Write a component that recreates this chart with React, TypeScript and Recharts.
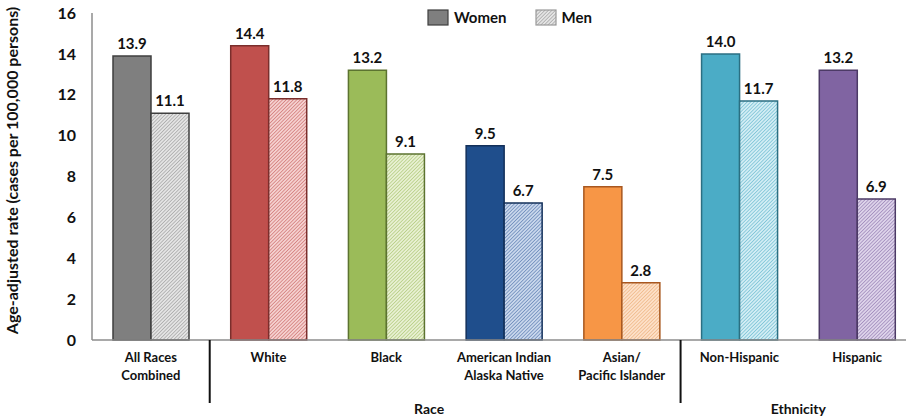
import { Bar, BarChart, Cell, LabelList, XAxis, YAxis } from "recharts";

const categories = [
  ["All Races", "Combined"],
  ["White"],
  ["Black"],
  ["American Indian", "Alaska Native"],
  ["Asian/", "Pacific Islander"],
  ["Non-Hispanic"],
  ["Hispanic"],
];
const groups = ["", "Race", "Race", "Race", "Race", "Ethnicity", "Ethnicity"];
const women = [13.9, 14.4, 13.2, 9.5, 7.5, 14.0, 13.2];
const men = [11.1, 11.8, 9.1, 6.7, 2.8, 11.7, 6.9];
const yTicks = [0, 2, 4, 6, 8, 10, 12, 14, 16];

const solidColors = ["#7f7f7f", "#c0504d", "#9bbb59", "#1f4e8c", "#f79646", "#4bacc6", "#8064a2"];
const edgeColors = ["#3f3f3f", "#7a2e2c", "#5c7330", "#13305a", "#a8571f", "#2b6f82", "#4c3a66"];
const lightColors = ["#e4e4e4", "#f5d0cf", "#e8f0d2", "#c9d7ec", "#fde0c8", "#d2edf4", "#ddd3ea"];
const hatchColors = ["#8a8a8a", "#c0504d", "#9bbb59", "#3a62a0", "#e8a468", "#4bacc6", "#8064a2"];

const font = "Lato, 'Liberation Sans', sans-serif";
const groupShift: Record<string, number> = { Race: -16, Ethnicity: 0 };

const data = categories.map((lines, i) => ({
  name: lines.join(" "),
  lines,
  group: groups[i],
  women: women[i],
  men: men[i],
}));

function CategoryTick(props: any) {
  const { x, y, payload, index } = props;
  const row = data[index];
  const half = payload.offset || 0;
  const isGroupStart = index > 0 && row.group !== data[index - 1].group;
  const groupSize = data.filter((d) => d.group === row.group).length;
  return (
    <g>
      <text x={x} y={y} textAnchor="middle" fontFamily={font} fontWeight={700} fontSize={13} fill="#111">
        {row.lines.map((line: string, i: number) => (
          <tspan key={i} x={x} dy={i === 0 ? 22 : 18}>
            {line}
          </tspan>
        ))}
      </text>
      {isGroupStart && (
        <>
          <line x1={x - half} x2={x - half} y1={y} y2={y + 63} stroke="#111" strokeWidth={2} />
          <text
            x={x - half + groupSize * half + groupShift[row.group]}
            y={y + 74}
            textAnchor="middle"
            fontFamily={font}
            fontWeight={700}
            fontSize={14}
            fill="#111"
          >
            {row.group}
          </text>
        </>
      )}
    </g>
  );
}

function ChartLegend() {
  const item = (label: string, fill: string, stroke: string) => (
    <div style={{ display: "flex", alignItems: "center", marginRight: 28 }}>
      <svg width={22} height={17} style={{ marginRight: 5 }}>
        <defs>
          <pattern id="legend-hatch" patternUnits="userSpaceOnUse" width={2.5} height={2.5} patternTransform="rotate(45)">
            <rect width={2.5} height={2.5} fill={lightColors[0]} />
            <line x1={0} y1={0} x2={0} y2={2.5} stroke={hatchColors[0]} strokeWidth={1} />
          </pattern>
        </defs>
        <rect x={1} y={1} width={20} height={15} fill={fill} stroke={stroke} strokeWidth={1.2} />
      </svg>
      <span style={{ fontFamily: font, fontWeight: 700, fontSize: 15, color: "#111" }}>{label}</span>
    </div>
  );
  return (
    <div style={{ position: "absolute", top: 8, left: 427, display: "flex" }}>
      {item("Women", "#7f7f7f", "#3f3f3f")}
      {item("Men", "url(#legend-hatch)", "#9a9a9a")}
    </div>
  );
}

function YLabel(props: any) {
  const { viewBox } = props;
  const cx = 14;
  const cy = viewBox.y + viewBox.height / 2 - 6;
  return (
    <text
      x={cx}
      y={cy}
      transform={`rotate(-90, ${cx}, ${cy})`}
      textAnchor="middle"
      dominantBaseline="middle"
      fontFamily={font}
      fontWeight={700}
      fontSize={16}
      fill="#111"
    >
      Age-adjusted rate (cases per 100,000 persons)
    </text>
  );
}

const labelStyle = { fontFamily: font, fontWeight: 700, fontSize: 15, fill: "#111" };

export default function App() {
  return (
    <div
      style={{
        position: "absolute",
        left: 0,
        top: 0,
        width: 906,
        height: 420,
        overflow: "hidden",
        background: "#fff",
      }}
    >
      <BarChart
        width={930}
        height={420}
        data={data}
        margin={{ top: 13, right: 14, bottom: 0, left: 0 }}
        barGap={0}
        barCategoryGap={21}
      >
        <defs>
          {lightColors.map((c, i) => (
            <pattern
              key={i}
              id={`hatch-${i}`}
              patternUnits="userSpaceOnUse"
              width={2.5}
              height={2.5}
              patternTransform="rotate(45)"
            >
              <rect width={2.5} height={2.5} fill={c} />
              <line x1={0} y1={0} x2={0} y2={2.5} stroke={hatchColors[i]} strokeWidth={1} />
            </pattern>
          ))}
        </defs>
        <XAxis
          dataKey="name"
          height={80}
          axisLine={{ stroke: "#8c8c8c", strokeWidth: 1.5 }}
          tickLine={false}
          tickSize={0}
          tickMargin={0}
          interval={0}
          tick={<CategoryTick />}
        />
        <YAxis
          domain={[0, 16]}
          ticks={yTicks}
          width={92}
          axisLine={{ stroke: "#8c8c8c", strokeWidth: 1.5 }}
          tickLine={false}
          tickSize={0}
          tickMargin={16}
          tick={{ fontFamily: font, fontWeight: 700, fontSize: 16, fill: "#111" }}
          label={<YLabel />}
        />
        <Bar dataKey="women" name="Women" isAnimationActive={false} strokeWidth={1.5}>
          {data.map((_, i) => (
            <Cell key={i} fill={solidColors[i]} stroke={edgeColors[i]} />
          ))}
          <LabelList
            dataKey="women"
            position="top"
            offset={7}
            formatter={(v: any) => Number(v).toFixed(1)}
            style={labelStyle}
          />
        </Bar>
        <Bar dataKey="men" name="Men" isAnimationActive={false} strokeWidth={1.5}>
          {data.map((_, i) => (
            <Cell key={i} fill={`url(#hatch-${i})`} stroke={edgeColors[i]} />
          ))}
          <LabelList
            dataKey="men"
            position="top"
            offset={7}
            formatter={(v: any) => Number(v).toFixed(1)}
            style={labelStyle}
          />
        </Bar>
      </BarChart>
      <ChartLegend />
    </div>
  );
}
